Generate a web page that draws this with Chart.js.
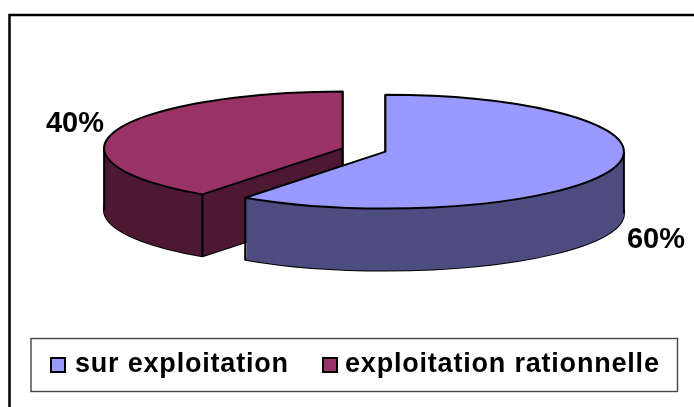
<!DOCTYPE html>
<html>
<head>
<meta charset="utf-8">
<style>
  body { margin: 0; background: #fff; }
  canvas { display: block; }
</style>
<script src="https://cdn.jsdelivr.net/npm/chart.js@4"></script>
</head>
<body>
<canvas id="myChart" width="694" height="407"></canvas>
<script>
const labels = ['sur exploitation', 'exploitation rationnelle'];
const values = [60, 40];
const topColors = ['#9999FF', '#993366'];
const wallColors = ['#4D4D80', '#4D1933'];

const squash = 0.2385;  // ellipse height / width
const depth = 62;
const explode = 22.5;

// where the percent labels sit
const pctPos = [[656, 248], [75, 132]];

function sliceGeom(arc) {
  const p = arc.getProps(['x', 'y', 'startAngle', 'endAngle', 'outerRadius']);
  const mid = (p.startAngle + p.endAngle) / 2;
  return {
    x: p.x + Math.cos(mid) * explode,
    y: p.y + Math.sin(mid) * explode * squash,
    rx: p.outerRadius,
    ry: p.outerRadius * squash,
    start: p.startAngle,
    end: p.endAngle
  };
}

function sector(ctx, g, dy) {
  ctx.beginPath();
  ctx.moveTo(g.x, g.y + dy);
  ctx.ellipse(g.x, g.y + dy, g.rx, g.ry, 0, g.start, g.end);
  ctx.closePath();
}

function drop(ctx, x, y) {
  ctx.beginPath();
  ctx.moveTo(x, y);
  ctx.lineTo(x, y + depth);
  ctx.stroke();
}

const pie3d = {
  id: 'pie3d',
  beforeDatasetsDraw(chart) {
    const ctx = chart.ctx;
    const arcs = chart.getDatasetMeta(0).data;
    ctx.save();
    ctx.strokeStyle = '#000';
    ctx.lineWidth = 2;
    ctx.lineJoin = 'round';
    // back slice first, the big one lands on top of it
    [1, 0].forEach(i => {
      const g = sliceGeom(arcs[i]);
      sector(ctx, g, depth);
      ctx.stroke();
      ctx.fillStyle = wallColors[i];
      for (let d = depth; d >= 0; d--) {
        sector(ctx, g, d);
        ctx.fill();
      }
      drop(ctx, g.x + g.rx * Math.cos(g.start), g.y + g.ry * Math.sin(g.start));
      drop(ctx, g.x + g.rx * Math.cos(g.end), g.y + g.ry * Math.sin(g.end));
      // left or right extreme of the ellipse
      if (g.start < 0 && g.end > 0) drop(ctx, g.x + g.rx, g.y);
      if (g.start < Math.PI && g.end > Math.PI) drop(ctx, g.x - g.rx, g.y);
      if (g.end - g.start < Math.PI) drop(ctx, g.x, g.y);
      sector(ctx, g, 0);
      ctx.fillStyle = topColors[i];
      ctx.fill();
      ctx.stroke();
    });
    ctx.restore();
    return false;
  },
  afterDraw(chart) {
    const ctx = chart.ctx;
    ctx.save();
    // outer frame, only top and left show in the picture
    ctx.strokeStyle = '#000';
    ctx.lineWidth = 2.5;
    ctx.beginPath();
    ctx.moveTo(9.5, 407);
    ctx.lineTo(9.5, 15);
    ctx.lineTo(694, 15);
    ctx.stroke();

    // percent labels
    const total = values.reduce((a, b) => a + b, 0);
    ctx.fillStyle = '#000';
    ctx.font = 'bold 29px "Liberation Sans"';
    ctx.textAlign = 'center';
    values.forEach((v, i) => {
      ctx.fillText(Math.round(v / total * 100) + '%', pctPos[i][0], pctPos[i][1]);
    });

    // legend
    ctx.lineWidth = 1.4;
    ctx.strokeStyle = '#444';
    ctx.strokeRect(31, 338.5, 646.5, 53);
    ctx.font = 'bold 27px "Liberation Sans"';
    ctx.letterSpacing = '0.8px';
    ctx.textAlign = 'left';
    const keyX = [51, 323];
    const textX = [75, 345];
    labels.forEach((t, i) => {
      ctx.fillStyle = topColors[i];
      ctx.lineWidth = 2;
      ctx.strokeStyle = '#000';
      ctx.fillRect(keyX[i], 358, 14, 14);
      ctx.strokeRect(keyX[i], 358, 14, 14);
      ctx.fillStyle = '#000';
      ctx.fillText(t, textX[i], 372);
    });
    ctx.restore();
  }
};

new Chart(document.getElementById('myChart'), {
  type: 'pie',
  data: {
    labels: labels,
    datasets: [{ data: values, backgroundColor: topColors, borderColor: '#000' }]
  },
  options: {
    responsive: false,
    animation: false,
    radius: 238.5,
    layout: { padding: { left: 34, bottom: 107 } },
    plugins: { legend: { display: false }, tooltip: { enabled: false } }
  },
  plugins: [pie3d]
});
</script>
</body>
</html>
